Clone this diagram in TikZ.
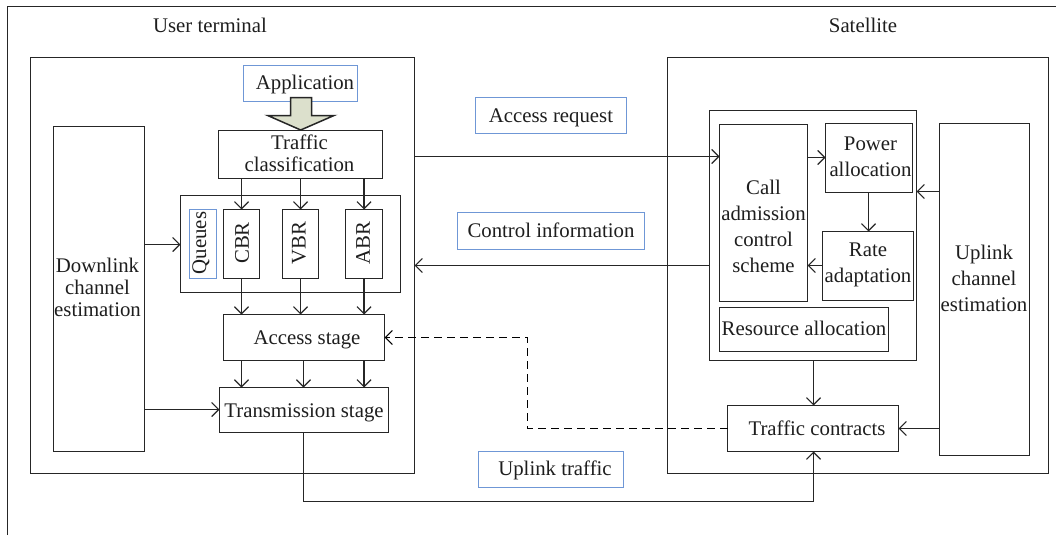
\documentclass[tikz,border=0pt]{standalone}
\usepackage{fontspec}
\setmainfont{Liberation Serif}
\usetikzlibrary{arrows.meta}
\definecolor{ln}{HTML}{262626}
\definecolor{bl}{HTML}{6F97D6}
\definecolor{ol}{HTML}{DCE0CC}
\definecolor{tx}{HTML}{1E1E1E}
\newcommand{\bx}[6][]{\node[boxn,#1,minimum width={(#5-#3)*1pt},minimum height={(#6-#4)*1pt}] (#2) at ({(#3+#5)/2},{(#4+#6)/2}) {};}
\tikzset{
  boxn/.style={draw=ln,line width=1.6pt,inner sep=0pt,outer sep=0pt,fill=none},
  bluebox/.style={draw=bl,line width=1.7pt},
  lab/.style={text=tx,font=\fontsize{20.8}{26}\selectfont,inner sep=0pt,align=center},
  one/.style={text height=13pt,text depth=4.5pt,yshift=-2.8pt},
  tight/.style={font=\fontsize{20.8}{22}\selectfont},
  arr/.style={draw=ln,line width=1.5pt,-{Straight Barb[length=7pt,width=14pt,line width=1.2pt]}},
  plain/.style={draw=ln,line width=1.6pt},
  dashln/.style={draw=black,line width=1.4pt,dash pattern=on 8pt off 5pt,-{Straight Barb[length=7pt,width=14pt,line width=1.2pt]}}
}
\begin{document}
\begin{tikzpicture}[x=1pt,y=-1pt]
\useasboundingbox (0,0) rectangle (1056,535);
\fill[white] (0,0) rectangle (1056,535);
\draw[plain] (7.5,535) -- (7.5,6.5) -- (1056,6.5);
% containers
\bx{ut}{30.5}{57.5}{414.5}{473.5}
\bx{sat}{667.5}{57.5}{1048.5}{473.5}
% user terminal
\bx[bluebox]{app}{243.5}{65.5}{357.5}{101.5}
\bx{tc}{218.5}{130.5}{382.5}{178.5}
\bx{qs}{180.5}{195.5}{400.5}{292.5}
\bx[bluebox]{qlab}{189.5}{209.5}{216.5}{278.5}
\bx{cbr}{223.5}{209.5}{259.5}{278.5}
\bx{vbr}{282.5}{209.5}{318.5}{278.5}
\bx{abr}{345.5}{209.5}{382.5}{278.5}
\bx{dl}{53.5}{126.5}{144.5}{451.5}
\bx{acc}{223.5}{314.5}{384.5}{360.5}
\bx{trs}{219.5}{387.5}{388.5}{432.5}
% satellite
\bx{cacb}{709.5}{110.5}{916.5}{360.5}
\bx{call}{719.5}{124.5}{807.5}{301.5}
\bx{pow}{825.5}{123.5}{912.5}{192.5}
\bx{rate}{822.5}{231.5}{913.5}{300.5}
\bx{res}{719.5}{307.5}{888.5}{351.5}
\bx{ul}{939.5}{123.5}{1029.5}{455.5}
\bx{con}{727.5}{405.5}{898.5}{451.5}
% link labels
\bx[bluebox]{areq}{475.5}{97.5}{626.5}{133.5}
\bx[bluebox]{cinf}{457.5}{212.5}{644.5}{249.5}
\bx[bluebox]{utr}{478.5}{451.5}{623.5}{487.5}
% hollow arrow
\filldraw[draw=ln,fill=ol,line width=1.5pt] (290.5,97.5) -- (311.5,97.5) -- (311.5,115.5) -- (334,115.5) -- (300.7,130) -- (267.7,115.5) -- (290.5,115.5) -- cycle;
% texts
\node[lab,one] (tUser) at (210,25) {User terminal};
\node[lab,one] (tSat) at (863,25) {Satellite};
\node[lab,one] (tApp) at (305,82) {Application};
\node[lab,tight] (tTc) at (299.5,153) {Traffic\\classification};
\node[lab,rotate=90] (tQ) at (201,243) {Queues};
\node[lab,rotate=90] (tCbr) at (242,243) {CBR};
\node[lab,rotate=90] (tVbr) at (299,243) {VBR};
\node[lab,rotate=90] (tAbr) at (363,243) {ABR};
\node[lab,tight] (tDl) at (97.5,287) {Downlink\\channel\\estimation};
\node[lab,one] (tAcc) at (307,337) {Access stage};
\node[lab,one] (tTrs) at (304,410) {Transmission stage};
\node[lab,one] (tAreq) at (551,115) {Access request};
\node[lab,one] (tCinf) at (551,230) {Control information};
\node[lab,one] (tUtr) at (555,468) {Uplink traffic};
\node[lab] (tCall) at (763.5,226.5) {Call\\admission\\control\\scheme};
\node[lab] (tPow) at (870.5,156.5) {Power\\allocation};
\node[lab] (tRate) at (868,264.5) {Rate\\adaptation};
\node[lab,one] (tRes) at (804,328.5) {Resource allocation};
\node[lab] (tUl) at (984,278) {Uplink\\channel\\estimation};
\node[lab,one] (tCon) at (817,428) {Traffic contracts};
% helper levels
\coordinate (yReq) at (0,156.5);
\coordinate (yCtl) at (0,265.5);
\coordinate (yCp) at (0,157.5);
\coordinate (yRc) at (0,265.5);
\coordinate (yUi) at (0,191.5);
\coordinate (yUc) at (0,428.5);
\coordinate (yDq) at (0,244.5);
\coordinate (yDt) at (0,409.5);
\coordinate (yBot) at (0,501.5);
\coordinate (xDash) at (527.5,0);
\coordinate (xMid) at (303.5,0);
\coordinate (xCon) at (813.5,0);
\coordinate (xPr) at (868.5,0);
\coordinate (yAcc) at (0,337.5);
% connectors
\foreach \b in {cbr,vbr,abr} {
  \draw[arr] (tc.south -| \b) -- (\b.north);
  \draw[arr] (\b.south) -- (acc.north -| \b);
}
\draw[arr] (acc.south -| cbr) -- (trs.north -| cbr);
\draw[arr] (acc.south -| xMid) -- (trs.north -| xMid);
\draw[arr] (acc.south -| abr) -- (trs.north -| abr);
\draw[arr] (dl.east |- yDq) -- (qs.west |- yDq);
\draw[arr] (dl.east |- yDt) -- (trs.west |- yDt);
\draw[arr] (ut.east |- yReq) -- (call.west |- yReq);
\draw[arr] (cacb.west |- yCtl) -- (ut.east |- yCtl);
\draw[arr] (call.east |- yCp) -- (pow.west |- yCp);
\draw[arr] (pow.south -| xPr) -- (rate.north -| xPr);
\draw[arr] (rate.west |- yRc) -- (call.east |- yRc);
\draw[arr] (ul.west |- yUi) -- (cacb.east |- yUi);
\draw[arr] (ul.west |- yUc) -- (con.east |- yUc);
\draw[arr] (cacb.south -| xCon) -- (con.north -| xCon);
\draw[arr] (trs.south -| xMid) -- (xMid |- yBot) -- (xCon |- yBot) -- (con.south -| xCon);
\draw[dashln] (con.west |- yUc) -- (xDash |- yUc) -- (xDash |- yAcc) -- (acc.east |- yAcc);
\end{tikzpicture}
\end{document}
